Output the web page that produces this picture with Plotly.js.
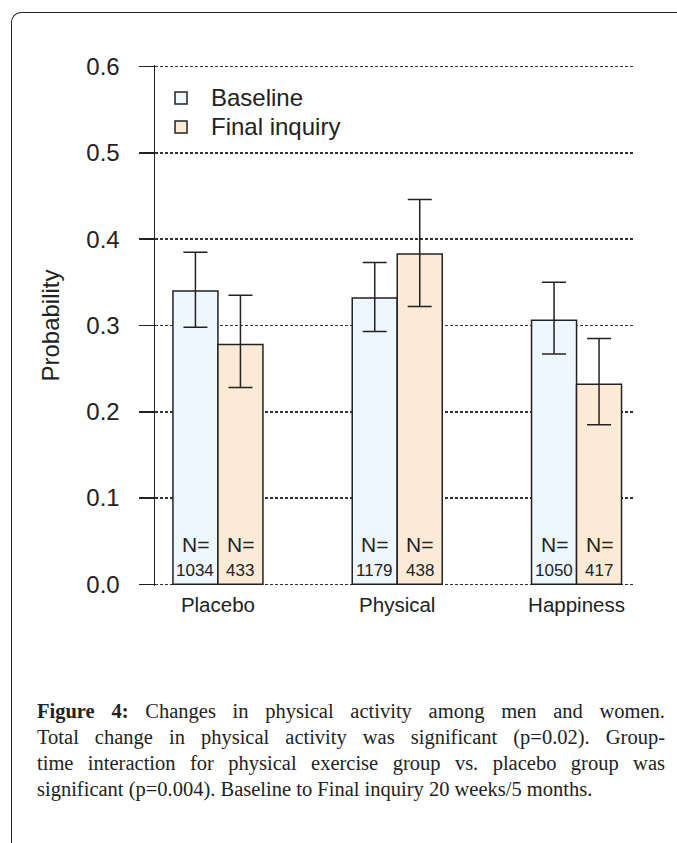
<!DOCTYPE html>
<html>
<head>
<meta charset="utf-8">
<script src="https://cdn.plot.ly/plotly-3.0.1.min.js"></script>
<style>
  html, body { margin: 0; padding: 0; background: #fff; width: 677px; height: 843px; overflow: hidden; }
  #frame { position: absolute; left: 11px; top: 12px; width: 720px; height: 900px;
           border-left: 1.5px solid #222; border-top: 1.5px solid #222; border-top-left-radius: 10px; }
  #chart { position: absolute; left: 0; top: 0; width: 677px; height: 843px; }
  #caption { position: absolute; left: 37px; top: 698px; width: 628px;
             font-family: "Liberation Serif", serif; font-size: 20.5px; line-height: 26px; color: #222; }
  #caption .j { text-align: justify; text-align-last: justify; white-space: nowrap; }
  #caption .l { text-align: left; white-space: nowrap; }
</style>
</head>
<body>
<div id="frame"></div>
<div id="chart"></div>
<div id="caption">
  <div class="j"><b>Figure 4:</b> Changes in physical activity among men and women.</div>
  <div class="j">Total change in physical activity was significant (p=0.02). Group-</div>
  <div class="j">time interaction for physical exercise group vs. placebo group was</div>
  <div class="l">significant (p=0.004). Baseline to Final inquiry 20 weeks/5 months.</div>
</div>
<script>
// ---- data ----
var groups = ["Placebo", "Physical", "Happiness"];
var seriesNames = ["Baseline", "Final inquiry"];

var baselineValues = [0.340, 0.332, 0.306];
var baselineUpper  = [0.385, 0.373, 0.350];
var baselineLower  = [0.298, 0.293, 0.267];
var baselineN      = [1034, 1179, 1050];

var finalValues = [0.278, 0.383, 0.232];
var finalUpper  = [0.335, 0.446, 0.285];
var finalLower  = [0.228, 0.322, 0.185];
var finalN      = [433, 438, 417];

var yTicks = [0.0, 0.1, 0.2, 0.3, 0.4, 0.5, 0.6];
var yTickText = ["0.0", "0.1", "0.2", "0.3", "0.4", "0.5", "0.6"];

// ---- styling ----
var sans = "Liberation Sans, Arial, sans-serif";
var ink = "#222";
var seriesColors = ["#EEF6FE", "#FAEAD6"];
var bargap = 0.498;

function diff(a, b) { return a.map(function (v, i) { return v - b[i]; }); }

function barTrace(name, vals, up, lo, color) {
  return {
    type: "bar", name: name, x: groups, y: vals, showlegend: false,
    marker: { color: color, line: { color: ink, width: 1.5 } },
    error_y: { type: "data", symmetric: false, array: diff(up, vals), arrayminus: diff(vals, lo),
               color: ink, thickness: 1.5, width: 12 },
    hoverinfo: "skip"
  };
}

var data = [
  barTrace(seriesNames[0], baselineValues, baselineUpper, baselineLower, seriesColors[0]),
  barTrace(seriesNames[1], finalValues, finalUpper, finalLower, seriesColors[1])
];

// N annotations: centered on each bar of the group
var barW = (1 - bargap) / 2;
var annotations = [];
function addN(counts, side) {
  counts.forEach(function (n, i) {
    var xc = i + side * barW / 2;
    annotations.push({ x: xc, y: 0.046, xref: "x", yref: "y", text: "N=", showarrow: false,
      xanchor: "center", yanchor: "middle", font: { family: sans, size: 21, color: ink } });
    annotations.push({ x: xc, y: 0.0165, xref: "x", yref: "y", text: String(n), showarrow: false,
      xanchor: "center", yanchor: "middle", font: { family: sans, size: 17, color: ink } });
  });
}
addN(baselineN, -1);
addN(finalN, 1);

// legend drawn as key squares + labels (paper coordinates of the plot area)
var shapes = [];
var legendKeyX = [0.0417, 0.0667];
var legendRowY = [0.9368, 0.8812];
var keyHalfH = 0.0115;
seriesNames.forEach(function (name, k) {
  shapes.push({ type: "rect", xref: "paper", yref: "paper",
    x0: legendKeyX[0], x1: legendKeyX[1], y0: legendRowY[k] - keyHalfH, y1: legendRowY[k] + keyHalfH,
    fillcolor: seriesColors[k], line: { color: ink, width: 1.5 } });
  annotations.push({ xref: "paper", yref: "paper", x: 0.1125, y: legendRowY[k], text: name,
    showarrow: false, xanchor: "left", yanchor: "middle", font: { family: sans, size: 24, color: ink } });
});

var layout = {
  width: 677, height: 843,
  margin: { l: 155, r: 42, t: 65, b: 257, pad: 0 },
  paper_bgcolor: "rgba(0,0,0,0)",
  plot_bgcolor: "rgba(0,0,0,0)",
  barmode: "group", bargap: bargap, bargroupgap: 0,
  showlegend: false,
  xaxis: { type: "category", range: [-0.351, 2.326], showgrid: false, showline: false, zeroline: false,
           ticks: "", tickfont: { family: sans, size: 20.5, color: ink }, ticklabelstandoff: 4, fixedrange: true },
  yaxis: { range: [-0.002, 0.602], tickvals: yTicks, ticktext: yTickText, zeroline: false,
           showgrid: true, gridcolor: "#333", gridwidth: 1.5, griddash: "3px,2px",
           showline: true, linecolor: ink, linewidth: 1.5,
           ticks: "outside", ticklen: 15, tickwidth: 1.5, tickcolor: ink, ticklabelstandoff: 14,
           tickfont: { family: sans, size: 24, color: ink },
           title: { text: "Probability", font: { family: sans, size: 24, color: ink }, standoff: 20 },
           fixedrange: true },
  shapes: shapes,
  annotations: annotations,
  font: { family: sans, color: ink }
};

Plotly.newPlot("chart", data, layout, { displayModeBar: false, staticPlot: true });
</script>
</body>
</html>
